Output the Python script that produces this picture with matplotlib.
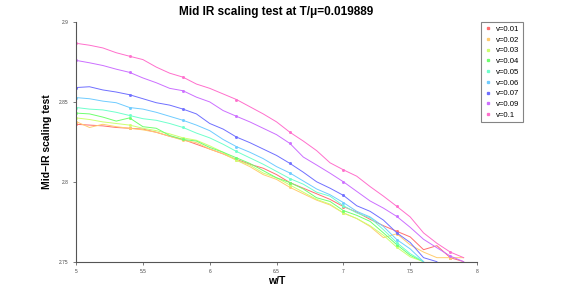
import matplotlib
matplotlib.use("Agg")
import matplotlib.pyplot as plt
from matplotlib.lines import Line2D
import numpy as np

nan = np.nan

# w/T grid
w_over_T = [5.0, 5.1, 5.2, 5.3, 5.4, 5.5, 5.6, 5.7, 5.8, 5.9,
            6.0, 6.1, 6.2, 6.3, 6.4, 6.5, 6.6, 6.7, 6.8, 6.9,
            7.0, 7.1, 7.2, 7.3, 7.4, 7.5, 7.6, 7.7, 7.8, 7.9, 8.0]

labels = ["v=0.01", "v=0.02", "v=0.03", "v=0.04", "v=0.05",
          "v=0.06", "v=0.07", "v=0.09", "v=0.1"]

v001 = [2.8360, 2.8355, 2.8350, 2.8340, 2.8335, 2.8330, 2.8310, 2.8285, 2.8265, 2.8235,
        2.8205, 2.8175, 2.8140, 2.8110, 2.8085, 2.8045, 2.7995, 2.7960, 2.7925, 2.7890,
        2.7845, 2.7810, 2.7765, 2.7725, 2.7690, 2.7655, 2.7575, 2.7600, 2.7525, 2.7500, nan]
v002 = [2.8377, 2.8340, 2.8360, 2.8345, 2.8335, 2.8325, 2.8310, 2.8285, 2.8260, 2.8245,
        2.8205, 2.8175, 2.8135, 2.8095, 2.8045, 2.8015, 2.7965, 2.7925, 2.7885, 2.7855,
        2.7805, 2.7770, 2.7720, 2.7650, 2.7675, 2.7605, 2.7560, 2.7525, 2.7525, 2.7525, nan]
v003 = [2.8400, 2.8390, 2.8375, 2.8365, 2.8355, 2.8335, 2.8320, 2.8300, 2.8275, 2.8260,
        2.8225, 2.8185, 2.8135, 2.8105, 2.8055, 2.8025, 2.7980, 2.7935, 2.7890, 2.7860,
        2.7805, 2.7770, 2.7725, 2.7665, 2.7590, 2.7530, 2.7500, nan, nan, nan, nan]
v004 = [2.8430, 2.8425, 2.8405, 2.8380, 2.8400, 2.8345, 2.8335, 2.8290, 2.8265, 2.8255,
        2.8215, 2.8185, 2.8150, 2.8115, 2.8070, 2.8025, 2.7995, 2.7955, 2.7900, 2.7877,
        2.7820, 2.7790, 2.7752, 2.7680, 2.7606, 2.7540, 2.7500, nan, nan, nan, nan]
v005 = [2.8465, 2.8455, 2.8450, 2.8435, 2.8415, 2.8395, 2.8385, 2.8365, 2.8340, 2.8305,
        2.8275, 2.8235, 2.8190, 2.8150, 2.8110, 2.8065, 2.8020, 2.7985, 2.7935, 2.7910,
        2.7850, 2.7805, 2.7775, 2.7700, 2.7619, 2.7550, 2.7500, nan, nan, nan, nan]
v006 = [2.8527, 2.8520, 2.8505, 2.8495, 2.8465, 2.8455, 2.8435, 2.8410, 2.8385, 2.8355,
        2.8320, 2.8265, 2.8220, 2.8185, 2.8145, 2.8095, 2.8055, 2.8005, 2.7955, 2.7919,
        2.7870, 2.7815, 2.7780, 2.7720, 2.7638, 2.7580, 2.7500, nan, nan, nan, nan]
v007 = [2.8590, 2.8595, 2.8575, 2.8562, 2.8545, 2.8520, 2.8495, 2.8480, 2.8455, 2.8425,
        2.8365, 2.8330, 2.8280, 2.8245, 2.8205, 2.8165, 2.8115, 2.8060, 2.8000, 2.7960,
        2.7915, 2.7850, 2.7815, 2.7760, 2.7680, 2.7620, 2.7525, 2.7500, nan, nan, nan]
v009 = [2.8760, 2.8745, 2.8728, 2.8705, 2.8685, 2.8650, 2.8620, 2.8585, 2.8570, 2.8530,
        2.8500, 2.8446, 2.8410, 2.8375, 2.8335, 2.8295, 2.8240, 2.8155, 2.8105, 2.8054,
        2.8000, 2.7940, 2.7880, 2.7835, 2.7783, 2.7715, 2.7640, 2.7587, 2.7535, 2.7500, nan]
v010 = [2.8867, 2.8855, 2.8838, 2.8808, 2.8786, 2.8765, 2.8718, 2.8680, 2.8655, 2.8612,
        2.8585, 2.8550, 2.8515, 2.8470, 2.8425, 2.8375, 2.8310, 2.8255, 2.8195, 2.8119,
        2.8075, 2.8035, 2.7970, 2.7910, 2.7846, 2.7780, 2.7680, 2.7615, 2.7560, 2.7525, nan]

series = [v001, v002, v003, v004, v005, v006, v007, v009, v010]
colors = ["#ff6f6f", "#ffcc6f", "#ccff6f", "#6fff6f", "#6fffcc",
          "#6fccff", "#6f6fff", "#cc6fff", "#ff6fcc"]

plt.rcParams['font.family'] = ['Liberation Sans', 'DejaVu Sans']

fig = plt.figure(figsize=(5.81, 2.94), dpi=100)
ax = fig.add_axes([0.131, 0.110, 0.690, 0.815])

for vals, col in zip(series, colors):
    ax.plot(w_over_T, vals, color=col, lw=0.7, marker='s', ms=1.0,
            markevery=4, clip_on=True)

ax.set_xlim(5, 8)
ax.set_ylim(2.75, 2.9)
ax.set_xticks([5, 5.5, 6, 6.5, 7, 7.5, 8])
ax.set_xticklabels(["5", "5.5", "6", "6.5", "7", "7.5", "8"])
ax.set_yticks([2.75, 2.8, 2.85, 2.9])
ax.set_yticklabels(["2.75", "2.8", "2.85", "2.9"])
ax.tick_params(labelsize=3.5, length=2, width=0.5, direction='out', colors='#444444')

for s in ['top', 'right']:
    ax.spines[s].set_visible(False)
for s in ['left', 'bottom']:
    ax.spines[s].set_color('#555555')
    ax.spines[s].set_linewidth(0.8)

ax.set_title("Mid IR scaling test at T/\u03bc=0.019889", fontsize=8.5,
             fontweight='bold', pad=5)
ax.set_xlabel("w/T", fontsize=7.5, fontweight='bold', labelpad=1)
ax.set_ylabel("Mid\u2212IR scaling test", fontsize=7.5, fontweight='bold', labelpad=5)

# legend: markers only, boxed, right of the axes
handles = [Line2D([], [], color=c, marker='s', ms=1.4, linestyle='none') for c in colors]
leg = ax.legend(handles, labels, loc='upper left', bbox_to_anchor=(1.01, 1.0),
                fontsize=5.6, frameon=True, fancybox=False, handlelength=1.0,
                handletextpad=0.5, labelspacing=0.42, borderpad=0.45,
                borderaxespad=0)
leg.get_frame().set_edgecolor('#666666')
leg.get_frame().set_linewidth(0.8)

fig.savefig("out.png", dpi=100)
